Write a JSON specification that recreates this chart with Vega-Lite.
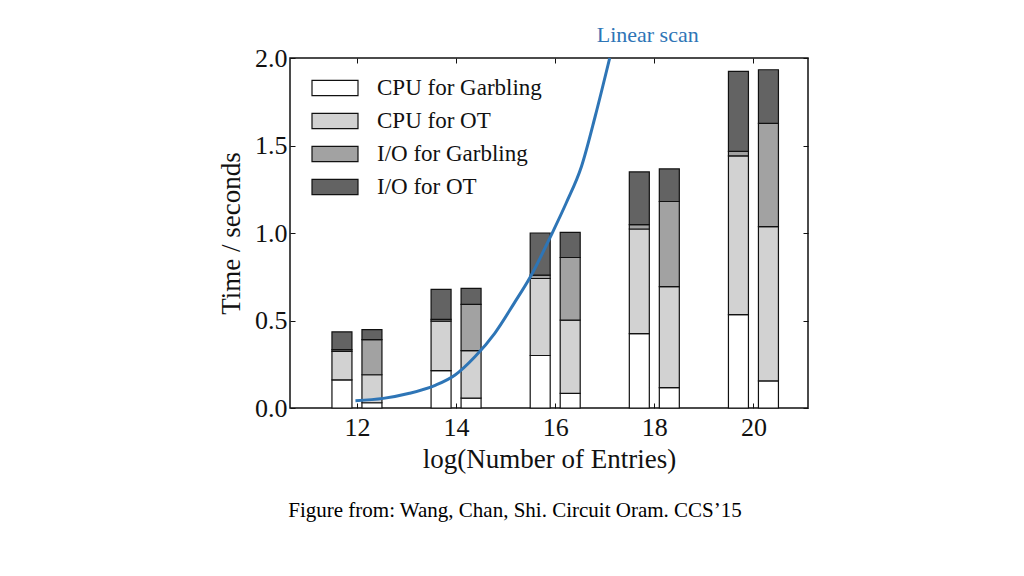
{
  "$schema": "https://vega.github.io/schema/vega-lite/v6.json",
  "width": 518,
  "height": 350,
  "autosize": "none",
  "padding": {"left": 290, "top": 58, "right": 216, "bottom": 168},
  "background": "white",
  "config": {
    "view": {"stroke": "#111111", "strokeWidth": 1.5},
    "font": "Liberation Serif",
    "axis": {"labelFont": "Liberation Serif", "titleFont": "Liberation Serif", "labelColor": "#111111", "titleColor": "#111111", "titleFontWeight": "normal", "grid": false, "domain": false, "tickColor": "#111111", "tickWidth": 1}
  },
  "title": {"text": "Figure from: Wang, Chan, Shi. Circuit Oram. CCS’15", "orient": "bottom", "font": "Liberation Serif", "fontSize": 21, "fontWeight": "normal", "color": "#000000", "offset": 28, "dx": -34, "anchor": "middle"},
  "datasets": {
    "bars": [
      {"n": 12, "scheme": "L", "part": "CPU for Garbling", "t": 0.161},
      {"n": 12, "scheme": "L", "part": "CPU for OT", "t": 0.163},
      {"n": 12, "scheme": "L", "part": "I/O for Garbling", "t": 0.01},
      {"n": 12, "scheme": "L", "part": "I/O for OT", "t": 0.101},
      {"n": 12, "scheme": "R", "part": "CPU for Garbling", "t": 0.03},
      {"n": 12, "scheme": "R", "part": "CPU for OT", "t": 0.16},
      {"n": 12, "scheme": "R", "part": "I/O for Garbling", "t": 0.201},
      {"n": 12, "scheme": "R", "part": "I/O for OT", "t": 0.057},
      {"n": 14, "scheme": "L", "part": "CPU for Garbling", "t": 0.214},
      {"n": 14, "scheme": "L", "part": "CPU for OT", "t": 0.282},
      {"n": 14, "scheme": "L", "part": "I/O for Garbling", "t": 0.01},
      {"n": 14, "scheme": "L", "part": "I/O for OT", "t": 0.172},
      {"n": 14, "scheme": "R", "part": "CPU for Garbling", "t": 0.056},
      {"n": 14, "scheme": "R", "part": "CPU for OT", "t": 0.272},
      {"n": 14, "scheme": "R", "part": "I/O for Garbling", "t": 0.264},
      {"n": 14, "scheme": "R", "part": "I/O for OT", "t": 0.092},
      {"n": 16, "scheme": "L", "part": "CPU for Garbling", "t": 0.3},
      {"n": 16, "scheme": "L", "part": "CPU for OT", "t": 0.44},
      {"n": 16, "scheme": "L", "part": "I/O for Garbling", "t": 0.019},
      {"n": 16, "scheme": "L", "part": "I/O for OT", "t": 0.241},
      {"n": 16, "scheme": "R", "part": "CPU for Garbling", "t": 0.084},
      {"n": 16, "scheme": "R", "part": "CPU for OT", "t": 0.418},
      {"n": 16, "scheme": "R", "part": "I/O for Garbling", "t": 0.358},
      {"n": 16, "scheme": "R", "part": "I/O for OT", "t": 0.144},
      {"n": 18, "scheme": "L", "part": "CPU for Garbling", "t": 0.425},
      {"n": 18, "scheme": "L", "part": "CPU for OT", "t": 0.598},
      {"n": 18, "scheme": "L", "part": "I/O for Garbling", "t": 0.025},
      {"n": 18, "scheme": "L", "part": "I/O for OT", "t": 0.301},
      {"n": 18, "scheme": "R", "part": "CPU for Garbling", "t": 0.117},
      {"n": 18, "scheme": "R", "part": "CPU for OT", "t": 0.577},
      {"n": 18, "scheme": "R", "part": "I/O for Garbling", "t": 0.486},
      {"n": 18, "scheme": "R", "part": "I/O for OT", "t": 0.186},
      {"n": 20, "scheme": "L", "part": "CPU for Garbling", "t": 0.534},
      {"n": 20, "scheme": "L", "part": "CPU for OT", "t": 0.907},
      {"n": 20, "scheme": "L", "part": "I/O for Garbling", "t": 0.026},
      {"n": 20, "scheme": "L", "part": "I/O for OT", "t": 0.457},
      {"n": 20, "scheme": "R", "part": "CPU for Garbling", "t": 0.155},
      {"n": 20, "scheme": "R", "part": "CPU for OT", "t": 0.881},
      {"n": 20, "scheme": "R", "part": "I/O for Garbling", "t": 0.59},
      {"n": 20, "scheme": "R", "part": "I/O for OT", "t": 0.307}
    ],
    "scan": [
      {"n": 11.97, "t": 0.042},
      {"n": 12.53, "t": 0.055},
      {"n": 13.06, "t": 0.084},
      {"n": 13.59, "t": 0.131},
      {"n": 13.98, "t": 0.189},
      {"n": 14.38, "t": 0.293},
      {"n": 14.78, "t": 0.427},
      {"n": 15.17, "t": 0.598},
      {"n": 15.5, "t": 0.75},
      {"n": 15.93, "t": 0.994},
      {"n": 16.22, "t": 1.17},
      {"n": 16.53, "t": 1.38},
      {"n": 16.81, "t": 1.67},
      {"n": 17.1, "t": 2.0}
    ]
  },
  "resolve": {"axis": {"x": "independent", "y": "independent"}},
  "layer": [
    {
      "data": {"name": "bars"},
      "transform": [{"filter": "datum.scheme === 'L'"}],
      "mark": {"type": "bar", "width": 20, "xOffset": -15, "stroke": "#111111", "strokeWidth": 1.2},
      "encoding": {
        "x": {"field": "n", "type": "quantitative", "scale": {"domain": [10.75, 21], "nice": false, "zero": false},
              "axis": {"orient": "bottom", "values": [12, 14, 16, 18, 20], "labelFontSize": 26, "labelPadding": 11, "tickSize": -5, "title": "log(Number of Entries)", "titleFontSize": 27, "titlePadding": 6}},
        "y": {"field": "t", "type": "quantitative", "stack": "zero", "scale": {"domain": [0, 2], "nice": false},
              "axis": {"orient": "left", "values": [0, 0.5, 1, 1.5, 2], "format": ".1f", "labelFontSize": 26, "labelPadding": 8, "tickSize": -5, "title": "Time / seconds", "titleFontSize": 27, "titlePadding": 9}},
        "color": {"field": "part", "type": "nominal",
                  "scale": {"domain": ["CPU for Garbling", "CPU for OT", "I/O for Garbling", "I/O for OT"], "range": ["#ffffff", "#d2d2d2", "#a2a2a2", "#636363"]},
                  "legend": {"orient": "none", "legendX": 29, "legendY": 14, "title": null, "padding": 0, "symbolType": "M-1.5,-0.5H1.5V0.5H-1.5Z", "symbolSize": 940, "symbolStrokeColor": "#111111", "symbolStrokeWidth": 1.2, "symbolOpacity": 1, "labelFont": "Liberation Serif", "labelFontSize": 23, "labelColor": "#111111", "labelOffset": 26, "labelLimit": 400, "rowPadding": 5}},
        "order": {"field": "part", "sort": "ascending"}
      }
    },
    {
      "data": {"name": "bars"},
      "transform": [{"filter": "datum.scheme === 'R'"}],
      "mark": {"type": "bar", "width": 20, "xOffset": 15, "stroke": "#111111", "strokeWidth": 1.2},
      "encoding": {
        "x": {"field": "n", "type": "quantitative",
              "axis": {"orient": "top", "values": [12, 14, 16, 18, 20], "labels": false, "title": null, "tickSize": -5}},
        "y": {"field": "t", "type": "quantitative", "stack": "zero",
              "axis": {"orient": "right", "values": [0, 0.5, 1, 1.5, 2], "labels": false, "title": null, "tickSize": -5}},
        "color": {"field": "part", "type": "nominal"},
        "order": {"field": "part", "sort": "ascending"}
      }
    },
    {
      "data": {"name": "scan"},
      "mark": {"type": "line", "color": "#2e75b6", "strokeWidth": 3, "interpolate": "monotone"},
      "encoding": {
        "x": {"field": "n", "type": "quantitative", "axis": null},
        "y": {"field": "t", "type": "quantitative", "axis": null}
      }
    },
    {
      "data": {"values": [{"n": 17.1, "t": 2.0, "label": "Linear scan"}]},
      "mark": {"type": "text", "color": "#2e75b6", "font": "Liberation Serif", "fontSize": 22, "dx": 38, "dy": -23, "align": "center", "baseline": "middle"},
      "encoding": {
        "x": {"field": "n", "type": "quantitative", "axis": null},
        "y": {"field": "t", "type": "quantitative", "axis": null},
        "text": {"field": "label"}
      }
    }
  ]
}
